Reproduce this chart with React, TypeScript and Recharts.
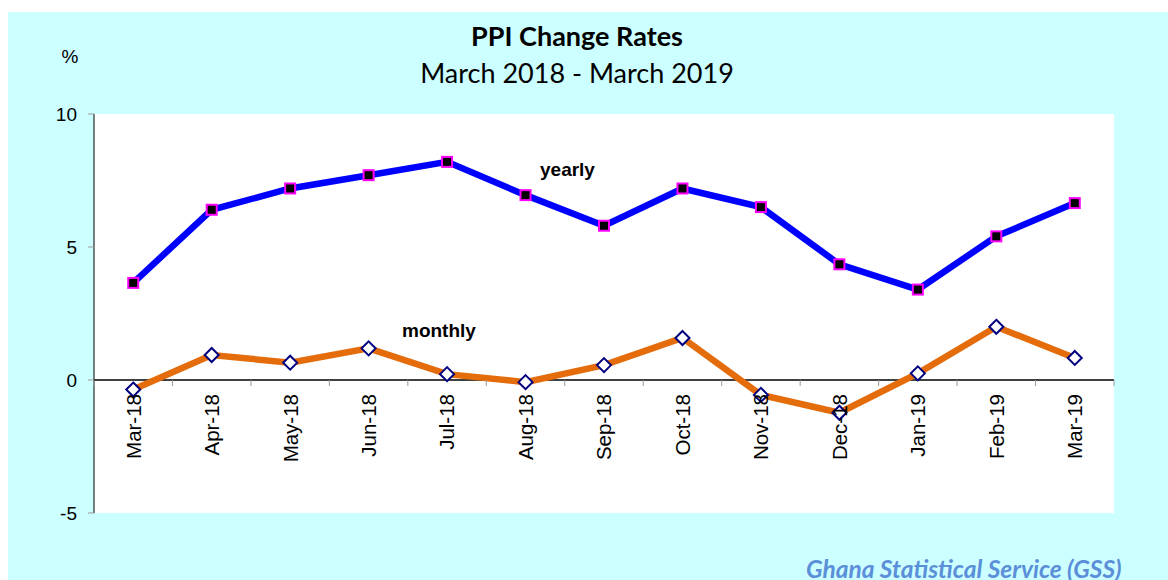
import { LineChart, Line, XAxis, YAxis, CartesianGrid, ReferenceLine } from "recharts";

const months = [
  "Mar-18", "Apr-18", "May-18", "Jun-18", "Jul-18", "Aug-18", "Sep-18",
  "Oct-18", "Nov-18", "Dec-18", "Jan-19", "Feb-19", "Mar-19",
];
const yearly = [3.65, 6.4, 7.2, 7.7, 8.2, 6.95, 5.8, 7.2, 6.5, 4.35, 3.4, 5.4, 6.65];
const monthly = [-0.36, 0.94, 0.65, 1.19, 0.22, -0.08, 0.56, 1.58, -0.56, -1.23, 0.25, 2.0, 0.83];
const yTicks = [-5, 0, 5, 10];

const data = months.map((month, i) => ({ month, yearly: yearly[i], monthly: monthly[i] }));

const W = 1160;
const H = 568;
const Y_AXIS_W = 86;
const X_AXIS_H = 1;
const margin = { top: 102, right: 54, bottom: 66, left: 0 };
const Y_MIN = -5;
const Y_MAX = 10;
const plotH = H - margin.top - margin.bottom - X_AXIS_H;
const plotW = W - margin.left - margin.right - Y_AXIS_W;
const zeroY = margin.top + (plotH * Y_MAX) / (Y_MAX - Y_MIN);
const band = plotW / months.length;

const ARIAL = "'Liberation Sans', Arial, sans-serif";
const CALIBRI = "Lato, 'Open Sans', sans-serif";

function MonthTick(props: any) {
  const { x, payload, index } = props;
  const left = x - band / 2;
  return (
    <g>
      <line x1={left} x2={left} y1={zeroY} y2={zeroY + 6} stroke="#999" />
      {index === months.length - 1 && (
        <line x1={x + band / 2} x2={x + band / 2} y1={zeroY} y2={zeroY + 6} stroke="#999" />
      )}
      <text
        transform={`translate(${x},${zeroY + 14}) rotate(-90)`}
        textAnchor="end"
        dy="0.36em"
        fontSize={20.5}
        fontFamily={ARIAL}
        fill="#000"
      >
        {payload.value}
      </text>
    </g>
  );
}

function squareDot(props: any) {
  const { cx, cy, index } = props;
  return (
    <rect key={`sq-${index}`} x={cx - 5} y={cy - 5} width={10} height={10} fill="#000" stroke="#ff00ff" strokeWidth={2} />
  );
}

function diamondDot(props: any) {
  const { cx, cy, index } = props;
  const r = 7;
  return (
    <polygon
      key={`dm-${index}`}
      points={`${cx},${cy - r} ${cx + r},${cy} ${cx},${cy + r} ${cx - r},${cy}`}
      fill="#fff"
      stroke="#000080"
      strokeWidth={2}
    />
  );
}

export default function App() {
  return (
    <div
      style={{
        position: "absolute",
        left: 8,
        top: 12,
        width: W,
        height: H,
        background: "#ccffff",
        overflow: "hidden",
      }}
    >
      <LineChart width={W} height={H} data={data} margin={margin}>
        <CartesianGrid horizontal={false} vertical={false} fill="#fff" stroke="none" />
        <YAxis
          width={Y_AXIS_W}
          domain={[Y_MIN, Y_MAX]}
          ticks={yTicks}
          interval={0}
          tickSize={6}
          tickMargin={11}
          axisLine={{ stroke: "#000" }}
          tickLine={{ stroke: "#999" }}
          tick={{ fontSize: 19, fontFamily: ARIAL, fill: "#000" }}
        />
        <XAxis
          dataKey="month"
          height={X_AXIS_H}
          interval={0}
          padding={{ left: band / 2, right: band / 2 }}
          axisLine={false}
          tickLine={false}
          tick={<MonthTick />}
        />
        <ReferenceLine y={0} stroke="#000" strokeWidth={1.3} />
        <Line
          type="linear"
          dataKey="yearly"
          stroke="#0000ff"
          strokeWidth={6.5}
          dot={squareDot}
          activeDot={false}
          isAnimationActive={false}
        />
        <Line
          type="linear"
          dataKey="monthly"
          stroke="#e46c0a"
          strokeWidth={6.5}
          dot={diamondDot}
          activeDot={false}
          isAnimationActive={false}
        />
      </LineChart>
      <svg
        width={W}
        height={H}
        style={{ position: "absolute", left: 0, top: 0, pointerEvents: "none" }}
      >
        <text x={569} y={34} textAnchor="middle" fontSize={27} fontWeight="bold" fontFamily={CALIBRI} fill="#000">
          PPI Change Rates
        </text>
        <text x={569} y={71} textAnchor="middle" fontSize={27} fontFamily={CALIBRI} fill="#000">
          March 2018 - March 2019
        </text>
        <text x={62} y={51} textAnchor="middle" fontSize={19} fontFamily={ARIAL} fill="#000">
          %
        </text>
        <text x={532} y={164} fontSize={19} fontWeight="bold" fontFamily={ARIAL} fill="#000">
          yearly
        </text>
        <text x={394} y={325} fontSize={19} fontWeight="bold" fontFamily={ARIAL} fill="#000">
          monthly
        </text>
        <text x={798} y={566} fontSize={24.5} fontWeight="bold" fontStyle="italic" fontFamily={CALIBRI} fill="#5b8fd9">
          Ghana Statistical Service (GSS)
        </text>
      </svg>
    </div>
  );
}
